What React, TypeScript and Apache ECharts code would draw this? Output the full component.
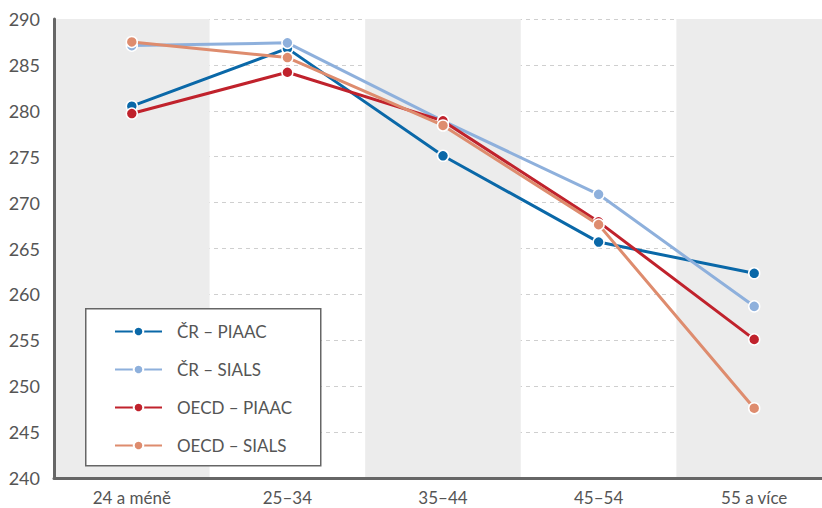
import React, { useEffect, useRef } from "react";
import * as echarts from "echarts";

const categories = ["24 a méně", "25–34", "35–44", "45–54", "55 a více"];
const crPiaac = [280.5, 286.8, 275.1, 265.7, 262.3];
const crSials = [287.1, 287.4, 278.9, 270.9, 258.7];
const oecdPiaac = [279.7, 284.2, 278.9, 267.9, 255.1];
const oecdSials = [287.5, 285.8, 278.4, 267.6, 247.6];

const seriesNames = ["ČR – PIAAC", "ČR – SIALS", "OECD – PIAAC", "OECD – SIALS"];
const seriesColors = ["#0a68a8", "#8eb0dc", "#c0222c", "#de8c6e"];

const FONT = "Lato, 'Open Sans', sans-serif";

export default function App() {
  const ref = useRef<HTMLDivElement>(null);
  useEffect(() => {
    if (!ref.current) return;
    const chart = echarts.init(ref.current, undefined, { renderer: "svg" });
    const data = [crPiaac, crSials, oecdPiaac, oecdSials];
    chart.setOption({
      animation: false,
      backgroundColor: "#ffffff",
      grid: { left: 54, top: 19, bottom: 30, right: 0, containLabel: false },
      xAxis: {
        type: "category",
        data: categories,
        boundaryGap: true,
        axisLine: { show: true, lineStyle: { color: "#666666", width: 3 } },
        axisTick: { show: false },
        axisLabel: { color: "#555555", fontSize: 17, fontFamily: FONT, margin: 11 },
        splitArea: { show: true, areaStyle: { color: ["#ececec", "rgba(255,255,255,0)"] } },
        splitLine: { show: false },
      },
      yAxis: {
        type: "value",
        min: 240,
        max: 290,
        interval: 5,
        axisLine: { show: true, lineStyle: { color: "#666666", width: 3 } },
        axisTick: { show: false },
        axisLabel: { color: "#555555", fontSize: 18, fontFamily: FONT, margin: 14 },
        splitLine: { show: true, lineStyle: { color: "#cfcfcf", width: 1, type: [4, 4] } },
      },
      graphic: [
        {
          type: "rect",
          left: 85,
          top: 308,
          shape: { width: 235, height: 157 },
          style: { fill: "#ffffff", stroke: "#666666", lineWidth: 1.5 },
          z: 10,
        },
      ],
      legend: {
        show: true,
        orient: "vertical",
        left: 114,
        top: 323,
        padding: 0,
        itemWidth: 47,
        itemHeight: 12,
        itemGap: 21,
        z: 20,
        textStyle: { color: "#555555", fontSize: 17, fontFamily: FONT, padding: [0, 0, 0, 10] },
        data: seriesNames,
      },
      series: data.map((d, i) => ({
        name: seriesNames[i],
        type: "line",
        data: d,
        symbol: "circle",
        symbolSize: 11,
        lineStyle: { color: seriesColors[i], width: 3 },
        itemStyle: { color: seriesColors[i], borderColor: "#ffffff", borderWidth: 1.5 },
        z: 3 + i,
      })),
    });
    return () => chart.dispose();
  }, []);
  return (
    <div style={{ position: "fixed", left: 0, top: 0, width: 822, height: 508, overflow: "hidden" }}>
      <div ref={ref} style={{ width: 832, height: 508 }} />
    </div>
  );
}
